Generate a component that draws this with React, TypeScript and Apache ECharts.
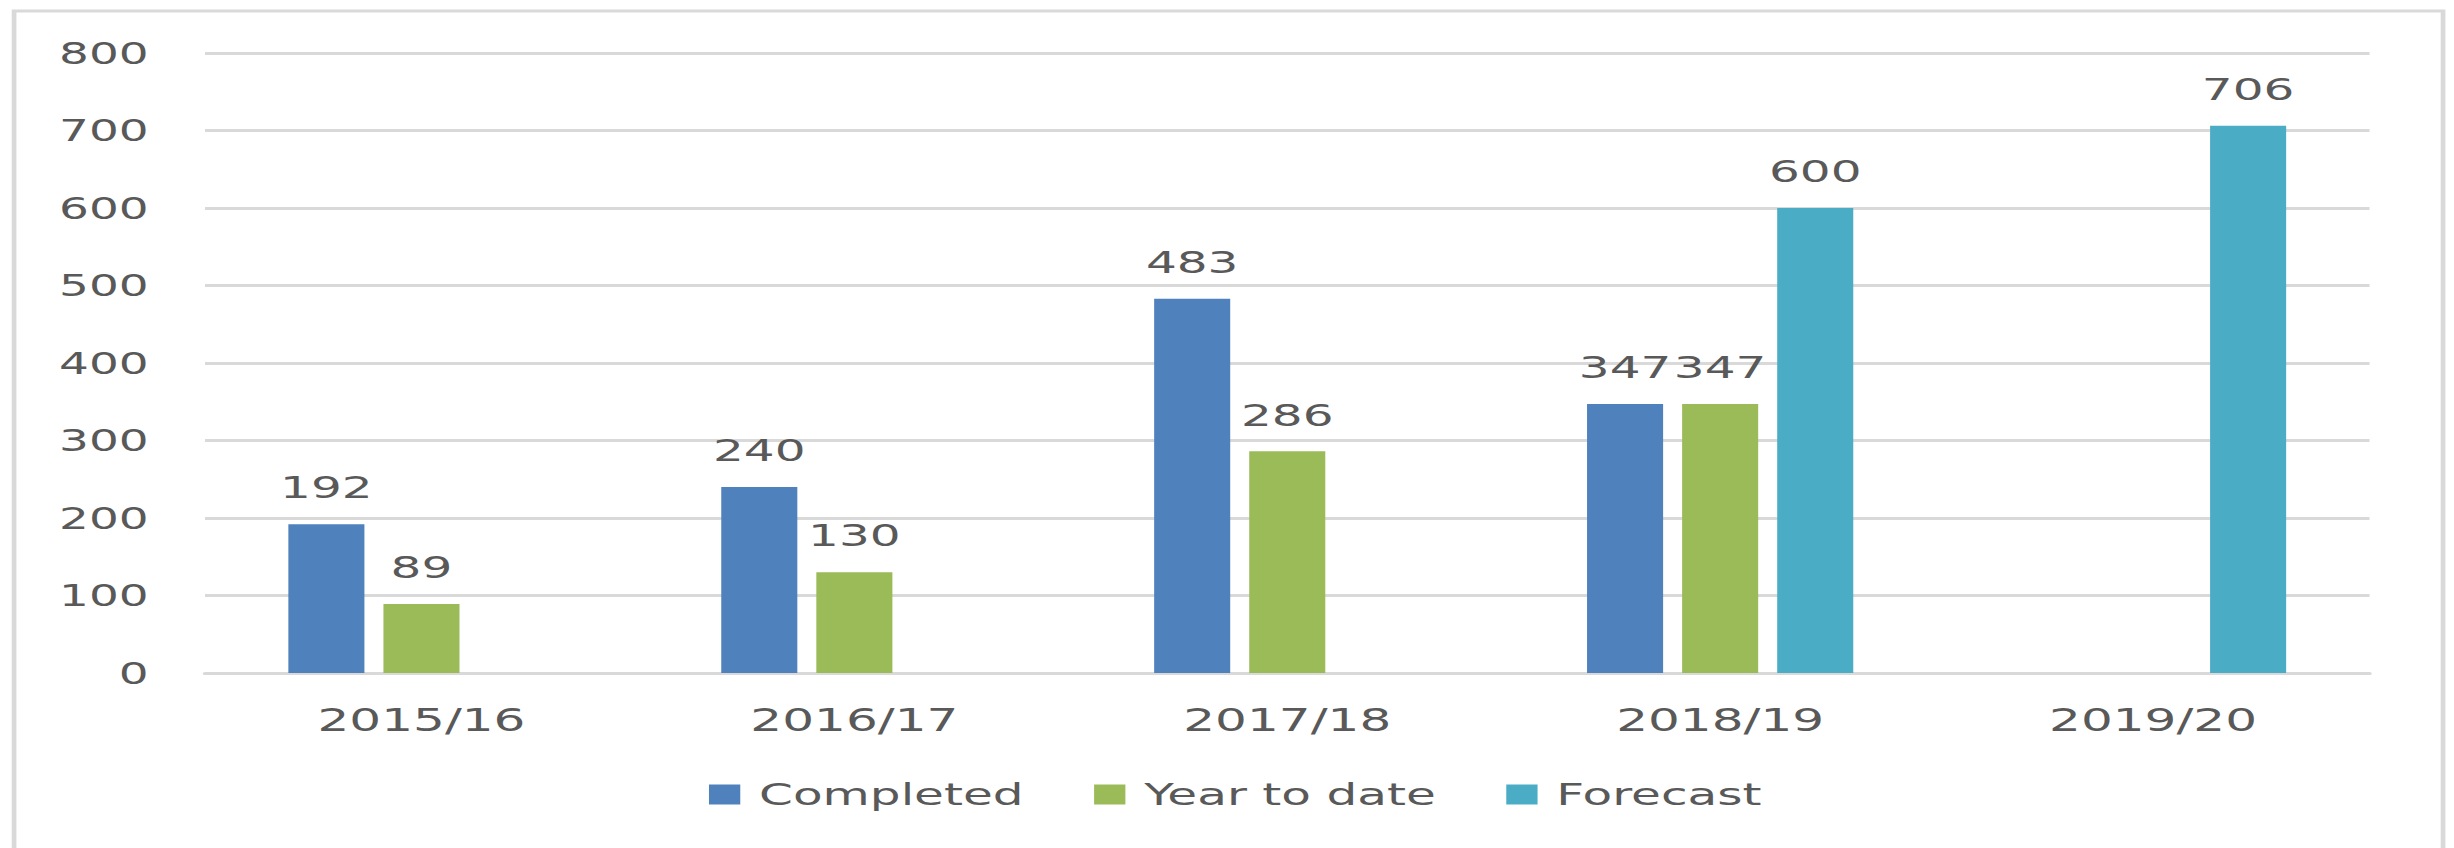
import React, { useEffect, useRef } from "react";
import * as echarts from "echarts";

const categories = ["2015/16", "2016/17", "2017/18", "2018/19", "2019/20"];
const completed = [192, 240, 483, 347, null];
const yearToDate = [89, 130, 286, 347, null];
const forecast = [null, null, null, 600, 706];
const seriesNames = ["Completed", "Year to date", "Forecast"];
const colors = ["#4F81BD", "#9BBB59", "#4BACC6"];

const FULL_W = 2454;
const BASE_W = 1568;
const H = 848;
const FONT = "'DejaVu Sans', Verdana, sans-serif";
const TEXT = "#595959";

export default function App() {
  const ref = useRef<HTMLDivElement>(null);
  useEffect(() => {
    if (!ref.current) return;
    const chart = echarts.init(ref.current, null, { renderer: "svg" });
    const label = {
      show: true,
      position: "top",
      distance: 21,
      color: TEXT,
      fontSize: 31,
      fontFamily: FONT,
    };
    const mk = (name: string, data: (number | null)[], color: string) => ({
      name,
      type: "bar",
      data: data.map((v) => (v == null ? "-" : v)),
      barWidth: 48.6,
      barGap: "25%",
      itemStyle: { color },
      label,
    });
    chart.setOption({
      animation: false,
      backgroundColor: "#ffffff",
      textStyle: { fontFamily: FONT },
      graphic: [
        {
          type: "rect",
          shape: { x: 9, y: 11, width: 1552, height: 900 },
          style: { fill: "none", stroke: "#d9d9d9", lineWidth: 3 },
          silent: true,
        },
      ],
      grid: { left: 131, right: 54, top: 53, bottom: 175 },
      legend: {
        data: seriesNames,
        left: 448,
        top: 774,
        itemWidth: 20,
        itemHeight: 20,
        itemGap: 45,
        icon: "rect",
        textStyle: { fontSize: 31, color: TEXT, fontFamily: FONT, padding: [0, 0, 0, 7] },
      },
      xAxis: {
        type: "category",
        data: categories,
        axisTick: { show: false },
        axisLine: { lineStyle: { color: "#d9d9d9", width: 3 } },
        axisLabel: { fontSize: 32, color: TEXT, fontFamily: FONT, margin: 31 },
      },
      yAxis: {
        type: "value",
        min: 0,
        max: 800,
        interval: 100,
        axisLine: { show: false },
        axisTick: { show: false },
        splitLine: { lineStyle: { color: "#d9d9d9", width: 3 } },
        axisLabel: { fontSize: 30, color: TEXT, fontFamily: FONT, margin: 36 },
      },
      series: [
        mk(seriesNames[0], completed, colors[0]),
        mk(seriesNames[1], yearToDate, colors[1]),
        mk(seriesNames[2], forecast, colors[2]),
      ],
    });
    return () => chart.dispose();
  }, []);
  return (
    <div
      ref={ref}
      style={{
        position: "fixed",
        left: 0,
        top: 0,
        width: BASE_W,
        height: H,
        transform: `scaleX(${FULL_W / BASE_W})`,
        transformOrigin: "0 0",
        background: "#fff",
      }}
    />
  );
}
